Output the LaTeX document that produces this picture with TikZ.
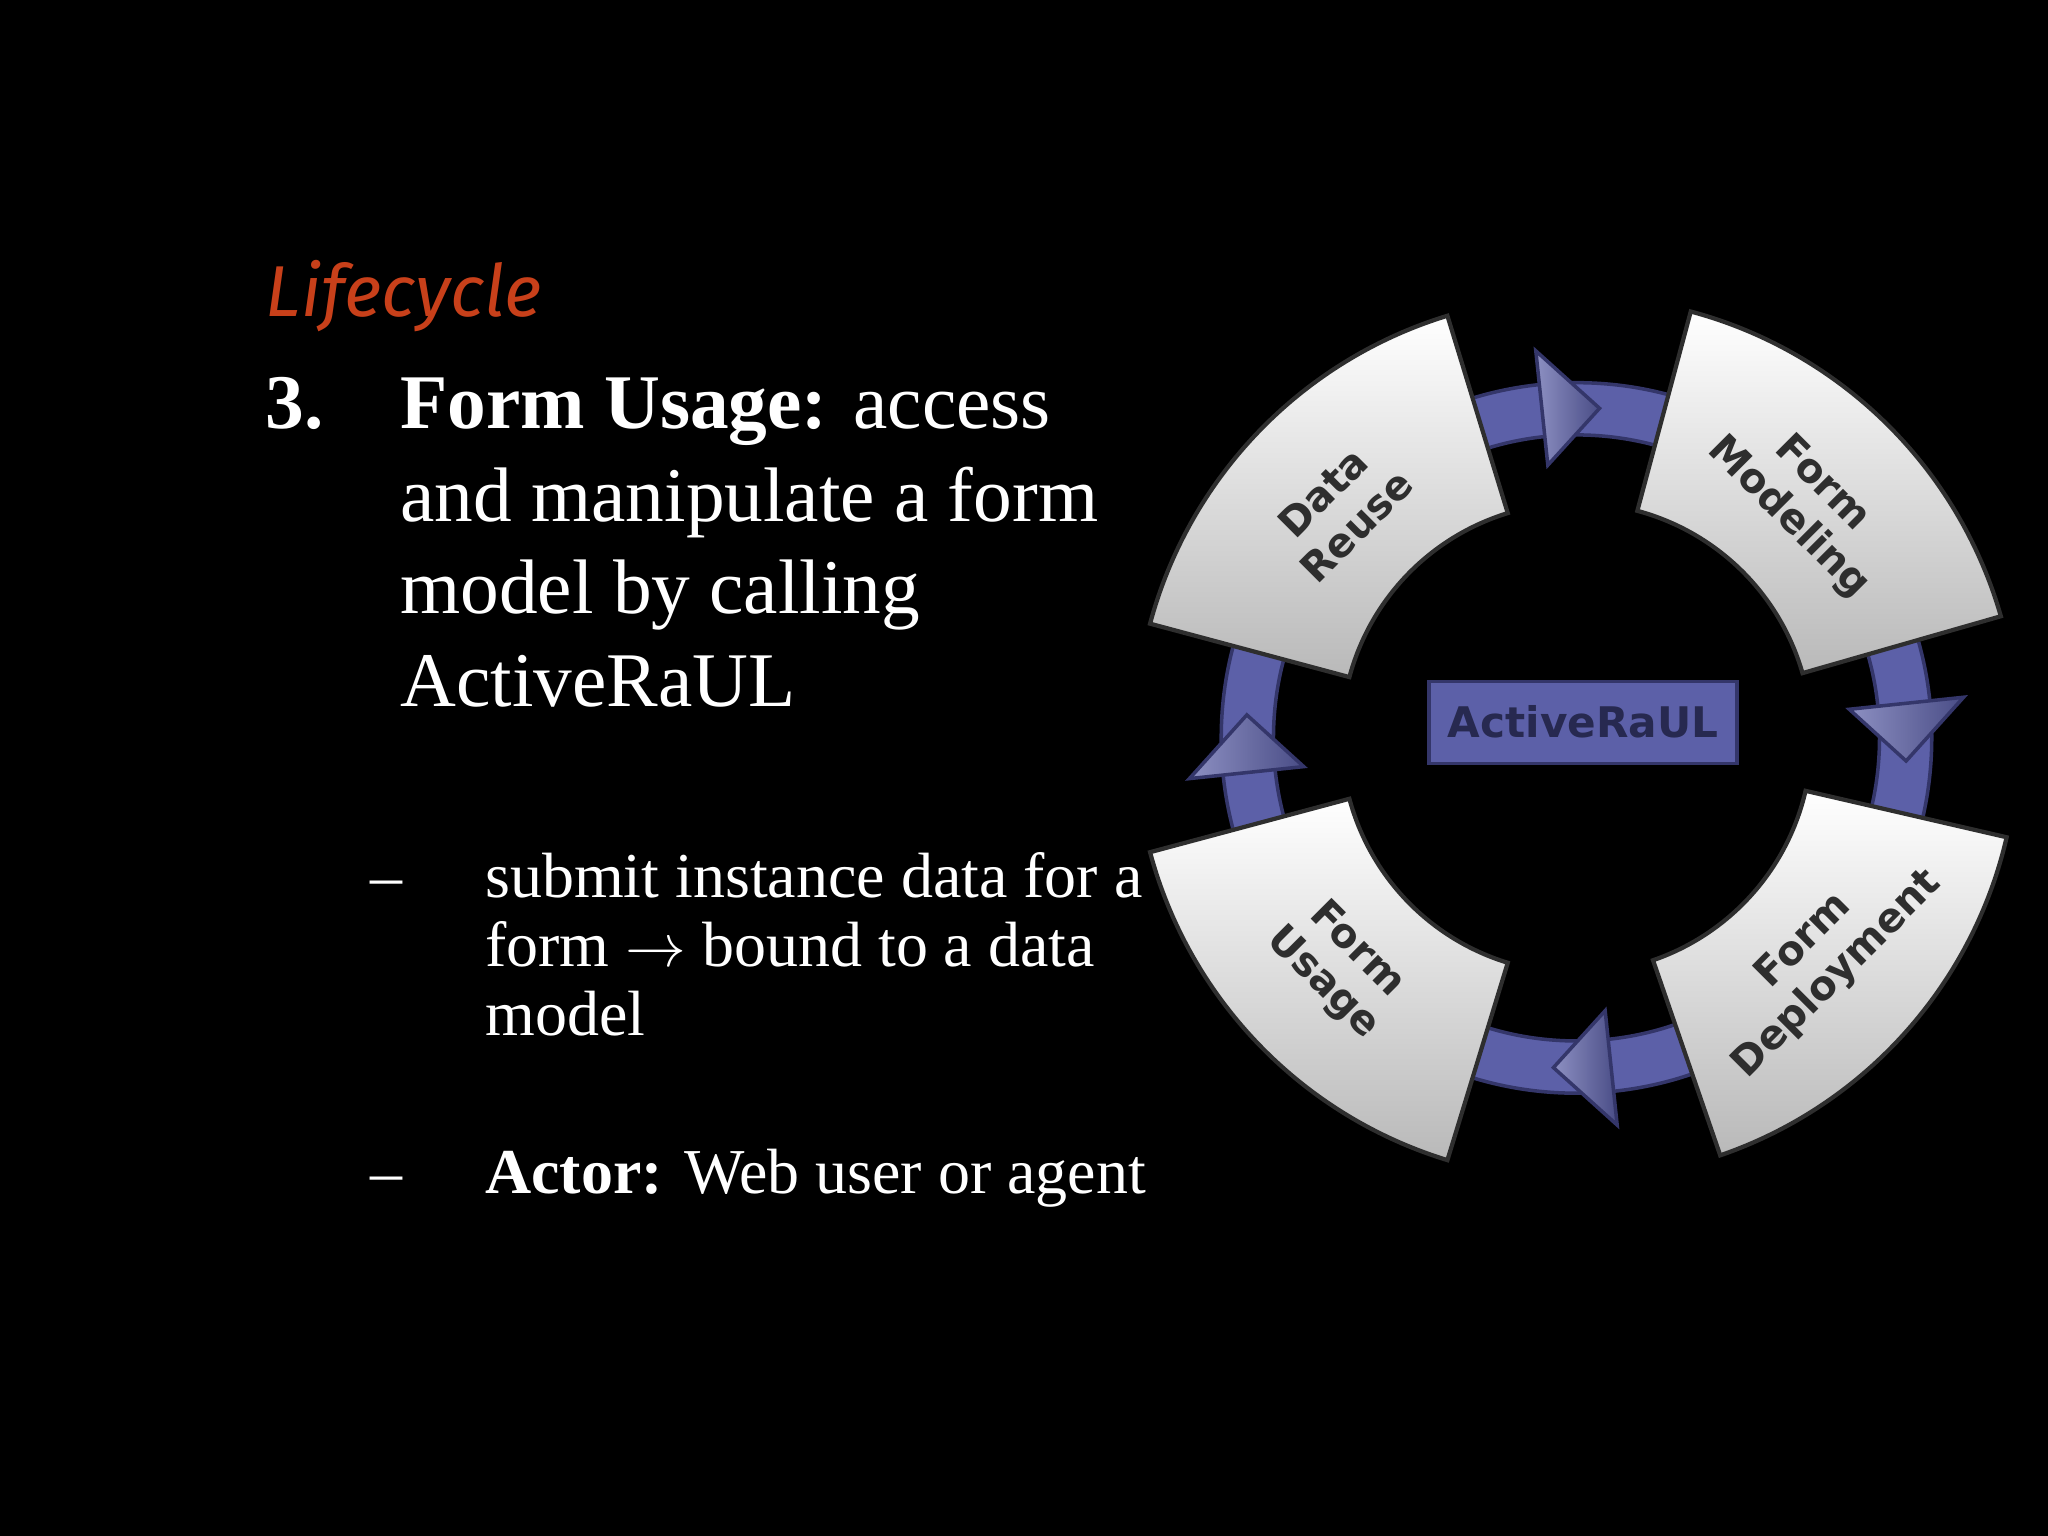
\documentclass[tikz,border=0pt]{standalone}
\usepackage{fontspec}
\setmainfont{Liberation Serif}
\newfontfamily\lblfont{DejaVu Sans}
\newfontfamily\headfont{Fira Sans}
\begin{document}
\begin{tikzpicture}[x=0.013061cm,y=0.013061cm]
\definecolor{bandc}{HTML}{5C60A8}
\definecolor{bandd}{HTML}{34366A}
\definecolor{headc}{HTML}{C8401A}
\definecolor{lblc}{HTML}{2E2E2E}
\tikzset{
  body/.style={anchor=base west,text=white,inner sep=0pt,font=\fontsize{22}{26}\selectfont},
  sub/.style={anchor=base west,text=white,inner sep=0pt,font=\fontsize{18.2}{22}\selectfont},
  seg/.style={draw=lblc,line width=1.2pt,top color=white,bottom color=gray!55},
  seglbl/.style={text=lblc,font=\lblfont\bfseries\fontsize{11.5}{13.5}\selectfont,align=center,inner sep=0pt},
  arrowtri/.style={draw=bandd,line width=1pt,left color=bandc!70!white,right color=bandc!80!black},
}
\fill[black] (0,0) rectangle (1568,1176);
\useasboundingbox (0,0) rectangle (1568,1176);
% left text
\node[anchor=base west,inner sep=0pt,text=headc,font=\headfont\itshape\fontsize{20.5}{24}\selectfont] (head) at (203,934) {Lifecycle};
\node[body] (num) at (203,848) {\textbf{3.}};
\node[body] (l1) at (306,848) {\textbf{Form Usage:} access};
\node[body] (l2) at (306,777) {and manipulate a form};
\node[body] (l3) at (306,706) {model by calling};
\node[body] (l4) at (306,635) {ActiveRaUL};
\node[sub] (d1) at (283,489) {--};
\node[sub] (s1) at (371,489) {submit instance data for a};
\node[sub] (s2) at (371,436) {form $\rightarrow$ bound to a data};
\node[sub] (s3) at (371,383) {model};
\node[sub] (d2) at (283,262) {--};
\node[sub] (s4) at (371,262) {\textbf{Actor:} Web user or agent};
% diagram
\begin{scope}[shift={(1207,611)}]
\coordinate (c) at (0,0);
\fill[bandc,draw=bandd,line width=1pt,even odd rule] (c) circle[radius=272] (c) circle[radius=232];
\foreach \b/\t in {96/86,6/-4,-84/-94,186/176}{
  \draw[arrowtri] (\b:210) -- (\b:298) -- (\t:253) -- cycle;
}
\foreach \a/\e in {16/75,107/165,195/253,-71/-13}{
  \draw[seg] (\a:338) arc[start angle=\a,end angle=\e,radius=338] -- (\e:180) arc[start angle=\e,end angle=\a,radius=180] -- cycle;
}
\node[seglbl,rotate=45] (dr) at (136:252) {Data\\Reuse};
\node[seglbl,rotate=-45] (fm) at (46:252) {Form\\Modeling};
\node[seglbl,rotate=45] (fd) at (-42:252) {Form\\Deployment};
\node[seglbl,rotate=-45] (fu) at (224:252) {Form\\Usage};
\node[fill=bandc,draw=bandd,line width=1pt,minimum width=3.08cm,minimum height=0.82cm,text=bandd!75!black,font=\lblfont\bfseries\fontsize{12}{14}\selectfont] (ar) at (5,12) {ActiveRaUL};
\end{scope}
\end{tikzpicture}
\end{document}
